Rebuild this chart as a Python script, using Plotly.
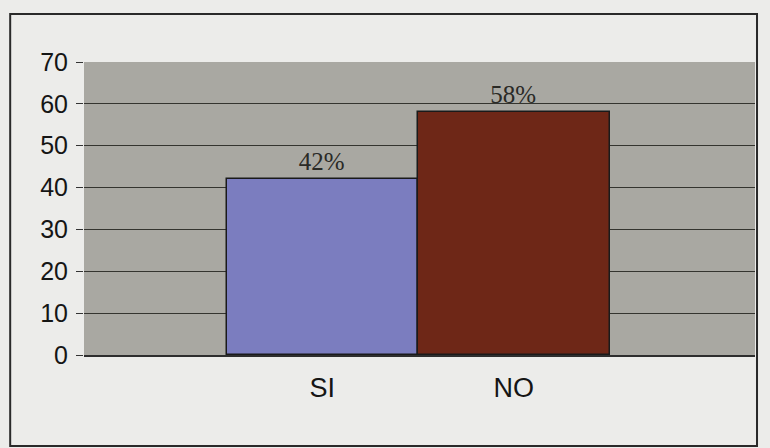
import plotly.graph_objects as go

categories = ["SI", "NO"]
values = [42, 58]
value_labels = ["42%", "58%"]
bar_colors = ["#7b7dbf", "#6e2717"]
y_ticks = [0, 10, 20, 30, 40, 50, 60, 70]

fig = go.Figure()
fig.add_trace(go.Bar(
    x=categories,
    y=values,
    text=value_labels,
    textposition="outside",
    textfont=dict(family="Liberation Serif", size=25, color="#2a2a26"),
    marker=dict(color=bar_colors, line=dict(color="#1a1a1a", width=1.5)),
    width=1.0,
    cliponaxis=False,
))

fig.update_layout(
    width=770, height=448,
    margin=dict(l=84, r=15, t=62, b=93),
    paper_bgcolor="#ececea",
    plot_bgcolor="#a9a8a2",
    showlegend=False,
    bargap=0,
    xaxis=dict(
        type="category",
        range=[-1.245, 2.26],
        showgrid=False,
        showline=True, linecolor="#2e2e2e", linewidth=1.5,
        ticks="",
        tickfont=dict(family="Liberation Sans", size=27, color="#151515"),
        ticklabelstandoff=8,
    ),
    yaxis=dict(
        range=[0, 70],
        tickvals=y_ticks,
        showgrid=True, gridcolor="#34342f", gridwidth=1.4,
        showline=False,
        ticks="outside", ticklen=7, tickcolor="#333333", tickwidth=1.2,
        tickfont=dict(family="Liberation Sans", size=25, color="#151515"),
        ticklabelstandoff=3,
        zeroline=False,
    ),
    shapes=[dict(type="rect", xref="paper", yref="paper",
                 x0=-0.110, x1=1.003, y0=-0.311, y1=1.164,
                 line=dict(color="#2a2a2a", width=2), fillcolor="rgba(0,0,0,0)",
                 layer="below")],
)

fig.write_html("out.html", config={"displayModeBar": False},
               post_script="document.body.style.margin='0';")
